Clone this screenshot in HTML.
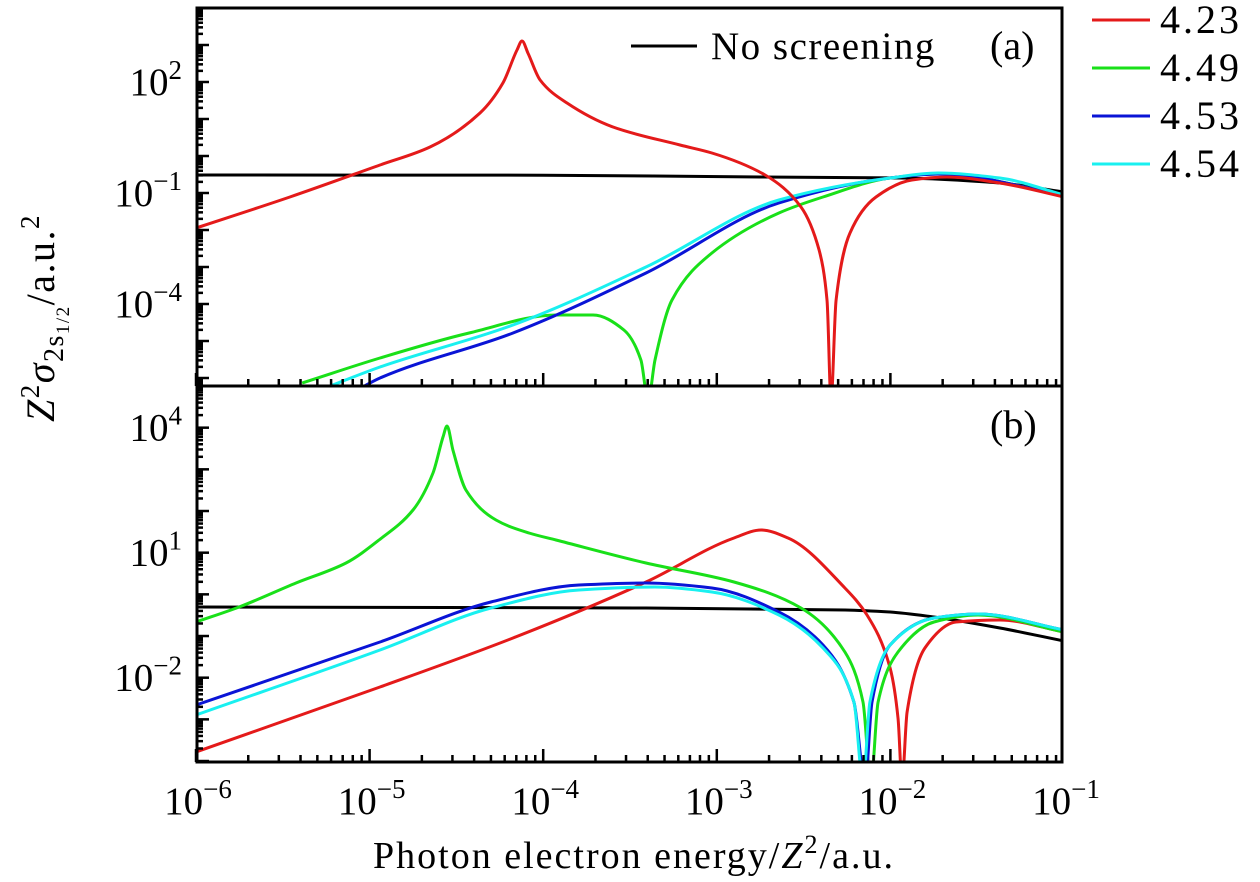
<!DOCTYPE html>
<html><head><meta charset="utf-8"><style>
html,body{margin:0;padding:0;background:#fff;}
svg{display:block;font-family:"Liberation Serif",serif;}
</style></head><body>
<svg id="chart" width="1260" height="882" viewBox="0 0 1260 882">
<defs>
<clipPath id="clipA"><rect x="197" y="9" width="865" height="377"/></clipPath>
<clipPath id="clipB"><rect x="197" y="387" width="865" height="375"/></clipPath>
</defs>
<g id="curvesA" clip-path="url(#clipA)"></g>
<g id="curvesB" clip-path="url(#clipB)"></g>
<g id="axes"></g>
<rect x="197" y="8" width="865" height="378" fill="none" stroke="#000" stroke-width="3"/>
<rect x="197" y="386" width="865" height="376" fill="none" stroke="#000" stroke-width="3"/>
<g>
<line x1="631" y1="46" x2="697" y2="46" stroke="#000" stroke-width="3"/>
<text x="711" y="59" font-size="39" letter-spacing="1.5">No screening</text>
</g>
<text x="990" y="59" font-size="40">(a)</text>
<text x="990" y="438" font-size="40">(b)</text>
<g>
<g><line x1="1092" y1="20" x2="1150" y2="20" stroke="#e41a1a" stroke-width="3"/><text x="1160" y="33" font-size="40" letter-spacing="3">4.23</text></g>
<g><line x1="1092" y1="68" x2="1150" y2="68" stroke="#19e019" stroke-width="3"/><text x="1160" y="81" font-size="40" letter-spacing="3">4.49</text></g>
<g><line x1="1092" y1="116" x2="1150" y2="116" stroke="#0a14d6" stroke-width="3"/><text x="1160" y="129" font-size="40" letter-spacing="3">4.53</text></g>
<g><line x1="1092" y1="164" x2="1150" y2="164" stroke="#19f0f0" stroke-width="3"/><text x="1160" y="177" font-size="40" letter-spacing="3">4.54</text></g>
</g>
<text x="634" y="868" font-size="38" letter-spacing="2" text-anchor="middle">Photon electron energy/<tspan font-style="italic">Z</tspan><tspan font-size="26" dy="-15">2</tspan><tspan dy="15">/a.u.</tspan></text>
<text transform="translate(54,318) rotate(-90)" font-size="40" letter-spacing="1.5" text-anchor="middle"><tspan font-style="italic">Z</tspan><tspan font-size="27" dy="-15">2</tspan><tspan dy="15" font-style="italic">σ</tspan><tspan font-size="28" dy="9">2s</tspan><tspan font-size="19" dy="6">1/2</tspan><tspan dy="-15">/a.u.</tspan><tspan font-size="27" dy="-15">2</tspan></text>
</svg>
<script>
// x values: log10(energy); y values: log10(cross-section)
const xTickExps = [-6, -5, -4, -3, -2, -1];
const yTickExpsA = [2, -1, -4];
const yTickExpsB = [4, 1, -2];

const blackA_x = [-6, -4, -2.75, -1.945, -1.369, -1.0];
const blackA_y = [-0.514, -0.52, -0.568, -0.595, -0.730, -0.973];
const redA_x = [-6, -5.459, -4.940, -4.652, -4.364, -4.232, -4.151, -4.122, -4.088, -4.018, -3.863, -3.598, -3.212, -3.028, -2.722, -2.515, -2.411, -2.365, -2.342, -2.313, -2.233, -2.083, -1.876, -1.674, -1.369, -1.0];
const redA_y = [-1.946, -1.108, -0.243, 0.243, 1.162, 1.973, 2.865, 3.108, 2.784, 2.054, 1.432, 0.784, 0.297, 0.081, -0.514, -1.378, -2.541, -3.892, -6.6, -3.892, -2.081, -1.108, -0.649, -0.568, -0.730, -1.108];
const greenA_x = [-5.389, -4.940, -4.427, -3.921, -3.713, -3.535, -3.437, -3.396, -3.356, -3.258, -3.028, -2.642, -2.388, -2.002, -1.726, -1.0];
const greenA_y = [-6.135, -5.459, -4.784, -4.297, -4.297, -4.703, -5.514, -6.6, -5.514, -3.892, -2.622, -1.541, -1.108, -0.595, -0.486, -1.054];
const blueA_x = [-5.1, -4.940, -4.174, -3.408, -2.642, -2.002, -1.726, -1.0];
const blueA_y = [-6.4, -6.0, -4.784, -3.162, -1.270, -0.595, -0.486, -1.054];
const cyanA_x = [-5.3, -4.940, -4.174, -3.408, -2.642, -2.002, -1.726, -1.369, -1.0];
const cyanA_y = [-6.35, -5.703, -4.568, -3.0, -1.189, -0.595, -0.459, -0.595, -1.054];

const blackB_x = [-6, -3.408, -2.262, -2.002, -1.749, -1.369, -1.0];
const blackB_y = [-0.304, -0.328, -0.376, -0.424, -0.544, -0.808, -1.120];
const redB_x = [-6, -4.940, -4.174, -3.408, -2.901, -2.745, -2.590, -2.262, -2.135, -2.002, -1.956, -1.933, -1.904, -1.801, -1.622, -1.369, -1.0];
const redB_y = [-3.783, -2.223, -1.048, 0.296, 1.352, 1.544, 1.352, 0.152, -0.496, -1.768, -2.967, -4.5, -2.823, -1.288, -0.664, -0.616, -0.904];
const greenB_x = [-6, -5.752, -5.424, -5.136, -4.946, -4.750, -4.635, -4.577, -4.554, -4.520, -4.445, -4.272, -4.082, -3.926, -3.408, -2.901, -2.515, -2.262, -2.158, -2.112, -2.071, -1.956, -1.749, -1.495, -1.0];
const greenB_y = [-0.664, -0.304, 0.272, 0.752, 1.304, 2.024, 2.912, 3.776, 4.04, 3.464, 2.504, 1.784, 1.472, 1.304, 0.752, 0.296, -0.328, -1.384, -2.583, -4.5, -2.583, -1.384, -0.664, -0.496, -0.904];
const blueB_x = [-6, -4.940, -4.301, -3.794, -3.408, -3.028, -2.642, -2.388, -2.210, -2.146, -2.106, -2.002, -1.749, -1.495, -1.0];
const blueB_y = [-2.655, -1.144, -0.184, 0.224, 0.272, 0.152, -0.424, -1.216, -2.583, -4.5, -2.583, -1.216, -0.568, -0.472, -0.856];
const cyanB_x = [-6, -4.940, -4.301, -3.794, -3.356, -3.028, -2.642, -2.388, -2.210, -2.158, -2.118, -2.002, -1.749, -1.495, -1.0];
const cyanB_y = [-2.895, -1.336, -0.328, 0.104, 0.176, 0.056, -0.496, -1.288, -2.583, -4.5, -2.583, -1.216, -0.568, -0.472, -0.856];

const NS = 'http://www.w3.org/2000/svg';
const X0 = 196, XDEC = 173.6;
function xs(e){ return X0 + (e + 6) * XDEC; }
function ysA(e){ return 8 + (4 - e) * 37; }
function ysB(e){ return 386 + (5 - e) * 41.67; }

// monotone cubic (Fritsch-Carlson) through pixel points
function pathFrom(p){
  const n = p.length, dx = [], m = [], t = [];
  for (let i = 0; i < n - 1; i++){ dx[i] = p[i+1][0] - p[i][0]; m[i] = (p[i+1][1] - p[i][1]) / dx[i]; }
  t[0] = m[0]; t[n-1] = m[n-2];
  for (let i = 1; i < n - 1; i++){
    if (m[i-1] * m[i] <= 0) t[i] = 0;
    else { const w1 = 2*dx[i] + dx[i-1], w2 = dx[i] + 2*dx[i-1]; t[i] = (w1 + w2) / (w1/m[i-1] + w2/m[i]); }
  }
  let d = 'M' + p[0][0].toFixed(1) + ',' + p[0][1].toFixed(1);
  for (let i = 0; i < n - 1; i++){
    const h = dx[i] / 3;
    d += 'C' + (p[i][0]+h).toFixed(1) + ',' + (p[i][1]+t[i]*h).toFixed(1) + ' ' + (p[i+1][0]-h).toFixed(1) + ',' + (p[i+1][1]-t[i+1]*h).toFixed(1) + ' ' + p[i+1][0].toFixed(1) + ',' + p[i+1][1].toFixed(1);
  }
  return d;
}
function drawSeries(gid, xsArr, ysArr, yfn, color, name){
  const pts = xsArr.map((v,i) => [xs(v), yfn(ysArr[i])]);
  const p = document.createElementNS(NS, 'path');
  p.setAttribute('d', pathFrom(pts));
  p.setAttribute('fill', 'none');
  p.setAttribute('stroke', color);
  p.setAttribute('stroke-width', '3');
  
  
  document.getElementById(gid).appendChild(p);
}
drawSeries('curvesA', blackA_x, blackA_y, ysA, '#000', 'no-screening-line-a');
drawSeries('curvesA', greenA_x, greenA_y, ysA, '#19e019', 'line-4.49-a');
drawSeries('curvesA', blueA_x, blueA_y, ysA, '#0a14d6', 'line-4.53-a');
drawSeries('curvesA', cyanA_x, cyanA_y, ysA, '#19f0f0', 'line-4.54-a');
drawSeries('curvesA', redA_x, redA_y, ysA, '#e41a1a', 'line-4.23-a');
drawSeries('curvesB', blackB_x, blackB_y, ysB, '#000', 'no-screening-line-b');
drawSeries('curvesB', redB_x, redB_y, ysB, '#e41a1a', 'line-4.23-b');
drawSeries('curvesB', greenB_x, greenB_y, ysB, '#19e019', 'line-4.49-b');
drawSeries('curvesB', blueB_x, blueB_y, ysB, '#0a14d6', 'line-4.53-b');
drawSeries('curvesB', cyanB_x, cyanB_y, ysB, '#19f0f0', 'line-4.54-b');

const ax = document.getElementById('axes');
function ln(x1,y1,x2,y2,w){
  const l = document.createElementNS(NS,'line');
  l.setAttribute('x1',x1); l.setAttribute('y1',y1); l.setAttribute('x2',x2); l.setAttribute('y2',y2);
  l.setAttribute('stroke','#000'); l.setAttribute('stroke-width',w);
  
  
  ax.appendChild(l);
}
function txt(x,y,base,exp,anchor,name){
  const t = document.createElementNS(NS,'text');
  t.setAttribute('x',x); t.setAttribute('y',y); t.setAttribute('font-size','39');
  t.setAttribute('text-anchor',anchor);
  
  
  const s = document.createElementNS(NS,'tspan'); s.textContent = base; t.appendChild(s);
  const e = document.createElementNS(NS,'tspan'); e.setAttribute('font-size','27'); e.setAttribute('dy','-16');
  e.textContent = exp.replace('-', '\u2212'); t.appendChild(e);
  ax.appendChild(t);
}
[386, 762].forEach(by => {
  for (let d = -6; d < -1; d++){
    for (let m = 1; m <= 9; m++){
      const x = xs(d + Math.log10(m));
      ln(x, by, x, by - (m === 1 ? 13 : 7), 2.5);
    }
  }
});
function yTicks(yfn, lo, hi, top, bot){
  for (let d = lo; d <= hi; d++){
    for (let m = 1; m <= 9; m++){
      const y = yfn(d + Math.log10(m));
      if (y < top || y > bot) continue;
      ln(197, y, 197 + (m === 1 ? 12 : 6), y, 2.5);
    }
  }
}
yTicks(ysA, -7, 4, 8, 386);
yTicks(ysB, -5, 5, 386, 762);
yTickExpsA.forEach(e => txt(182, ysA(e) + 13, '10', String(e), 'end', 'y-tick-label-a'));
yTickExpsB.forEach(e => txt(182, ysB(e) + 13, '10', String(e), 'end', 'y-tick-label-b'));
xTickExps.forEach(e => txt(xs(e) + 2, 814, '10', String(e), 'middle', 'x-tick-label'));
</script>
</body></html>
